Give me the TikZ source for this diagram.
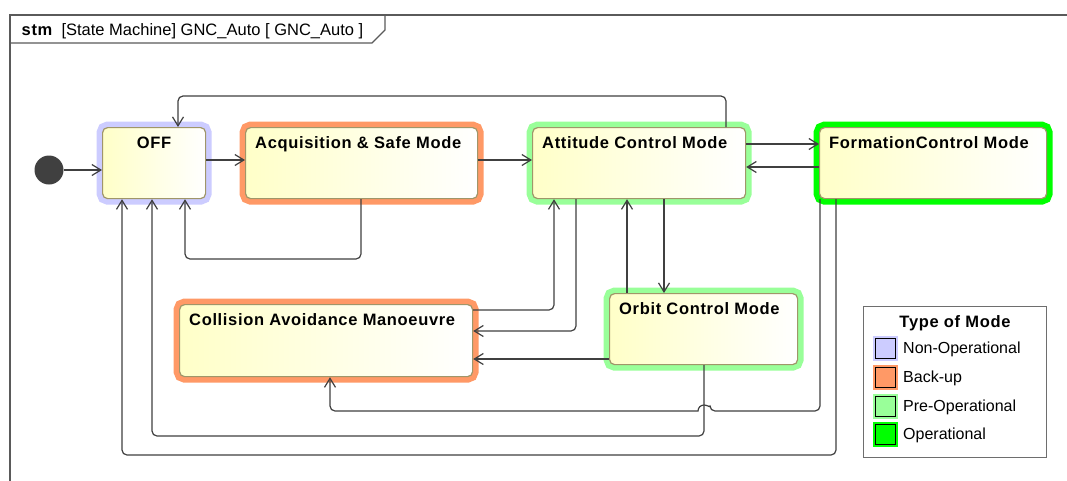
\documentclass[tikz,border=0pt]{standalone}
\usepackage{fontspec}
\setmainfont{Liberation Sans}
\newfontface\boldsp[LetterSpace=4]{Liberation Sans Bold}
\usetikzlibrary{arrows.meta}
\definecolor{nonop}{RGB}{204,204,255}
\definecolor{backup}{RGB}{255,153,102}
\definecolor{preop}{RGB}{153,255,153}
\definecolor{oper}{RGB}{0,255,0}
\definecolor{boxline}{RGB}{160,150,105}
\definecolor{boxfill}{RGB}{255,255,200}
\definecolor{connc}{RGB}{64,64,64}
\definecolor{framec}{RGB}{90,90,90}
\definecolor{legline}{RGB}{110,110,110}
\tikzset{
  state/.style={draw=boxline, line width=1.2pt, rounded corners=5pt,
    left color=boxfill, right color=white,
    preaction={draw=#1, fill=#1, line width=12pt, rounded corners=5pt},
    inner sep=0pt, anchor=north west},
  statelabel/.style={font=\boldsp\fontsize{16.5}{18}\selectfont, inner sep=0pt},
  conn/.style={draw=connc, line width=1.2pt, rounded corners=5pt,
    -{Straight Barb[length=9pt,width=11pt,line width=1.2pt]}},
  framestyle/.style={draw=framec, line width=1.3pt},
  swatch/.style={draw=black, line width=1pt, fill=#1, minimum size=20pt, inner sep=0pt,
    preaction={draw=#1, line width=5pt}},
  legtext/.style={font=\fontsize{16}{18}\selectfont, anchor=west, inner sep=0pt},
}
\begin{document}
\begin{tikzpicture}[x=1pt,y=-1pt]
\useasboundingbox (0,0) rectangle (1067,480);
\clip (0,0) rectangle (1067,480);
\fill[white] (0,0) rectangle (1067,480);
% frame
\draw[framestyle] (10,500) -- (10,15) -- (1100,15);
\draw[framestyle] (10,43) -- (372,43) -- (385,30) -- (385,15);
\node[anchor=base west, inner sep=0pt, font=\fontsize{16.5}{18}\selectfont] (hdr) at (21.5,35.5)
  {{\boldsp stm}\ \ [State Machine] GNC\_Auto [ GNC\_Auto ]};
% states
\node[state=nonop, minimum width=103pt, minimum height=71pt,
  label={[statelabel, anchor=base, yshift=-21.5pt]north:OFF}] (off) at (102,127) {};
\node[state=backup, minimum width=232pt, minimum height=71pt,
  label={[statelabel, anchor=base west, xshift=10pt, yshift=-21.5pt]north west:Acquisition \& Safe Mode}] (acq) at (245,127) {};
\node[state=preop, minimum width=213pt, minimum height=71pt,
  label={[statelabel, anchor=base west, xshift=10pt, yshift=-21.5pt]north west:Attitude Control Mode}] (att) at (532,127) {};
\node[state=oper, minimum width=227pt, minimum height=71pt,
  label={[statelabel, anchor=base west, xshift=10pt, yshift=-21.5pt]north west:FormationControl Mode}] (form) at (819,127) {};
\node[state=preop, minimum width=188pt, minimum height=71pt,
  label={[statelabel, anchor=base west, xshift=10pt, yshift=-21.5pt]north west:Orbit Control Mode}] (orb) at (609,293) {};
\node[state=backup, minimum width=293pt, minimum height=72pt,
  label={[statelabel, anchor=base west, xshift=10pt, yshift=-21.5pt]north west:Collision Avoidance Manoeuvre}] (col) at (179,304) {};
\node[circle, fill=connc, minimum size=29pt, inner sep=0pt] (init) at (49,170) {};
% connectors
\draw[conn] (init) -- (off.west |- init);
\draw[conn] (off.east |- 0,160) -- (acq.west |- 0,160);
\draw[conn] (acq.east |- 0,160) -- (att.west |- 0,160);
\draw[conn] (att.east |- 0,144) -- (form.west |- 0,144);
\draw[conn] (form.west |- 0,167) -- (att.east |- 0,167);
\draw[conn] (726,0 |- att.north) -- (726,96) -- (178,96) -- (178,0 |- off.north);
\draw[conn] (361,0 |- acq.south) -- (361,259) -- (185,259) -- (185,0 |- off.south);
\draw[conn] (col.east |- 0,310) -- (554,310) -- (554,0 |- att.south);
\draw[conn] (576,0 |- att.south) -- (576,331) -- (col.east |- 0,331);
\draw[conn] (orb.west |- 0,359) -- (col.east |- 0,359);
\draw[conn] (664,0 |- att.south) -- (664,0 |- orb.north);
\draw[conn] (627,0 |- orb.north) -- (627,0 |- att.south);
\draw[conn] (704,0 |- orb.south) -- (704,436) -- (152,436) -- (152,0 |- off.south);
\draw[conn] (820,0 |- form.south) -- (820,411) -- (710,411) [sharp corners] arc[start angle=0,end angle=-180,radius=6] [rounded corners=5pt] -- (330,411) -- (330,0 |- col.south);
\draw[conn] (836,0 |- form.south) -- (836,455) -- (122,455) -- (122,0 |- off.south);
% legend
\node[draw=legline, line width=1pt, fill=white, minimum width=183pt, minimum height=151pt,
  anchor=north west, inner sep=0pt] (legend) at (863,306) {};
\node[anchor=base, inner sep=0pt, font=\boldsp\fontsize{16.5}{18}\selectfont] (legtitle) at (955,327) {Type of Mode};
\node[swatch=nonop] (sw1) at (885,348) {};
\node[swatch=backup] (sw2) at (885,377) {};
\node[swatch=preop] (sw3) at (885,406) {};
\node[swatch=oper] (sw4) at (885,434) {};
\node[legtext] (lt1) at (903,349.5) {Non-Operational};
\node[legtext] (lt2) at (903,378.5) {Back-up};
\node[legtext] (lt3) at (903,407.5) {Pre-Operational};
\node[legtext] (lt4) at (903,435.5) {Operational};
\end{tikzpicture}
\end{document}
